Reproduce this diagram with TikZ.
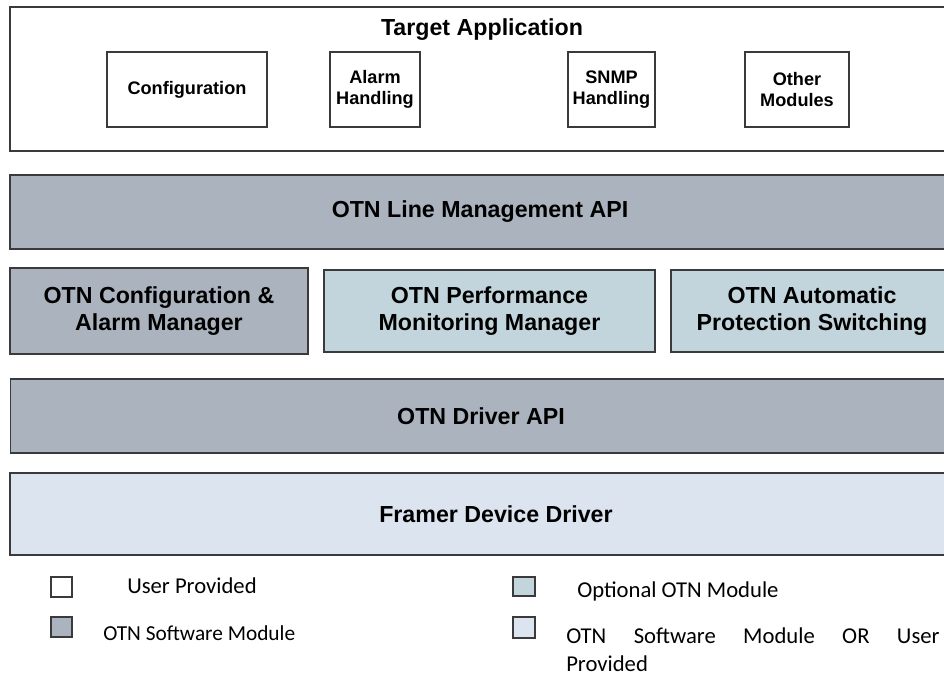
\documentclass[tikz,border=0pt]{standalone}
\usepackage{fontspec}
\setmainfont{Liberation Sans}
\newfontfamily\legendfont{Carlito}
\definecolor{otndark}{HTML}{AAB3BE}
\definecolor{otnopt}{HTML}{C3D5DC}
\definecolor{otnlight}{HTML}{DBE4EF}
\definecolor{edgecol}{HTML}{3A3A3A}
\begin{document}
\begin{tikzpicture}[x=0.75pt,y=-0.75pt,
  box/.style={draw=edgecol,line width=0.9pt,inner sep=0pt,align=center},
  bigtxt/.style={font=\fontsize{17.4}{20}\selectfont\bfseries},
  smalltxt/.style={font=\fontsize{13.6}{16}\selectfont\bfseries},
  legsq/.style={draw=edgecol,line width=0.8pt,inner sep=0pt},
  legtxt/.style={font=\legendfont\fontsize{17}{21}\selectfont,inner sep=0pt}]
\useasboundingbox (0,0) rectangle (944,677);
\clip (0,0) rectangle (944,677);
% top application box
\node[box,fill=white,minimum width=705pt,minimum height=108pt] (app) at (480,79) {};
\node[bigtxt,inner sep=0pt] (title) at (482,30) {Target Application};
\node[box,smalltxt,fill=white,minimum width=120pt,minimum height=56.25pt] (cfg) at (187,89.5) {Configuration};
\node[box,smalltxt,fill=white,minimum width=67.5pt,minimum height=56.25pt] (alarm) at (375,89.5) {Alarm\\Handling};
\node[box,smalltxt,fill=white,minimum width=65.25pt,minimum height=56.25pt] (snmp) at (611.5,89.5) {SNMP\\Handling};
\node[box,smalltxt,fill=white,minimum width=78pt,minimum height=56.25pt] (other) at (797,89.5) {Other\\Modules};
% layers
\node[box,bigtxt,fill=otndark,minimum width=705pt,minimum height=55.5pt] (lma) at (480,212) {OTN Line Management API};
\node[box,bigtxt,fill=otndark,minimum width=223.5pt,minimum height=64.5pt] (cam) at (159,311) {OTN Configuration \&\\Alarm Manager};
\node[box,bigtxt,fill=otnopt,minimum width=248.25pt,minimum height=61.5pt] (pmm) at (489.5,311) {OTN Performance\\Monitoring Manager};
\node[box,bigtxt,fill=otnopt,minimum width=211.5pt,minimum height=61.5pt] (aps) at (812,311) {OTN Automatic\\Protection Switching};
\node[box,bigtxt,fill=otndark,minimum width=705.75pt,minimum height=55.5pt] (dapi) at (481,416) {OTN Driver API};
\node[box,bigtxt,fill=otnlight,minimum width=729pt,minimum height=61.5pt] (fdd) at (496,514) {Framer Device Driver};
% legend
\node[legsq,fill=white,minimum width=15.75pt,minimum height=15pt] (sq1) at (61.5,587) {};
\node[legsq,fill=otndark,minimum width=15.75pt,minimum height=15pt] (sq2) at (61.5,627) {};
\node[legsq,fill=otnopt,minimum width=16.5pt,minimum height=14.25pt] (sq3) at (524,586.5) {};
\node[legsq,fill=otnlight,minimum width=16.5pt,minimum height=15.75pt] (sq4) at (524,627.5) {};
\node[legtxt,anchor=base west] (l1) at (127,593) {User Provided};
\node[legtxt,anchor=base west,font=\legendfont\fontsize{16}{21}\selectfont] (l2) at (103,640) {OTN Software Module};
\node[legtxt,anchor=base west] (l3) at (577,597) {Optional OTN Module};
\node[legtxt,anchor=base west,text width=283.5pt,align=left] (l4) at (566,643) {\hbox to 280pt{OTN\hfill Software\hfill Module\hfill OR\hfill User}\\Provided};
\end{tikzpicture}
\end{document}
